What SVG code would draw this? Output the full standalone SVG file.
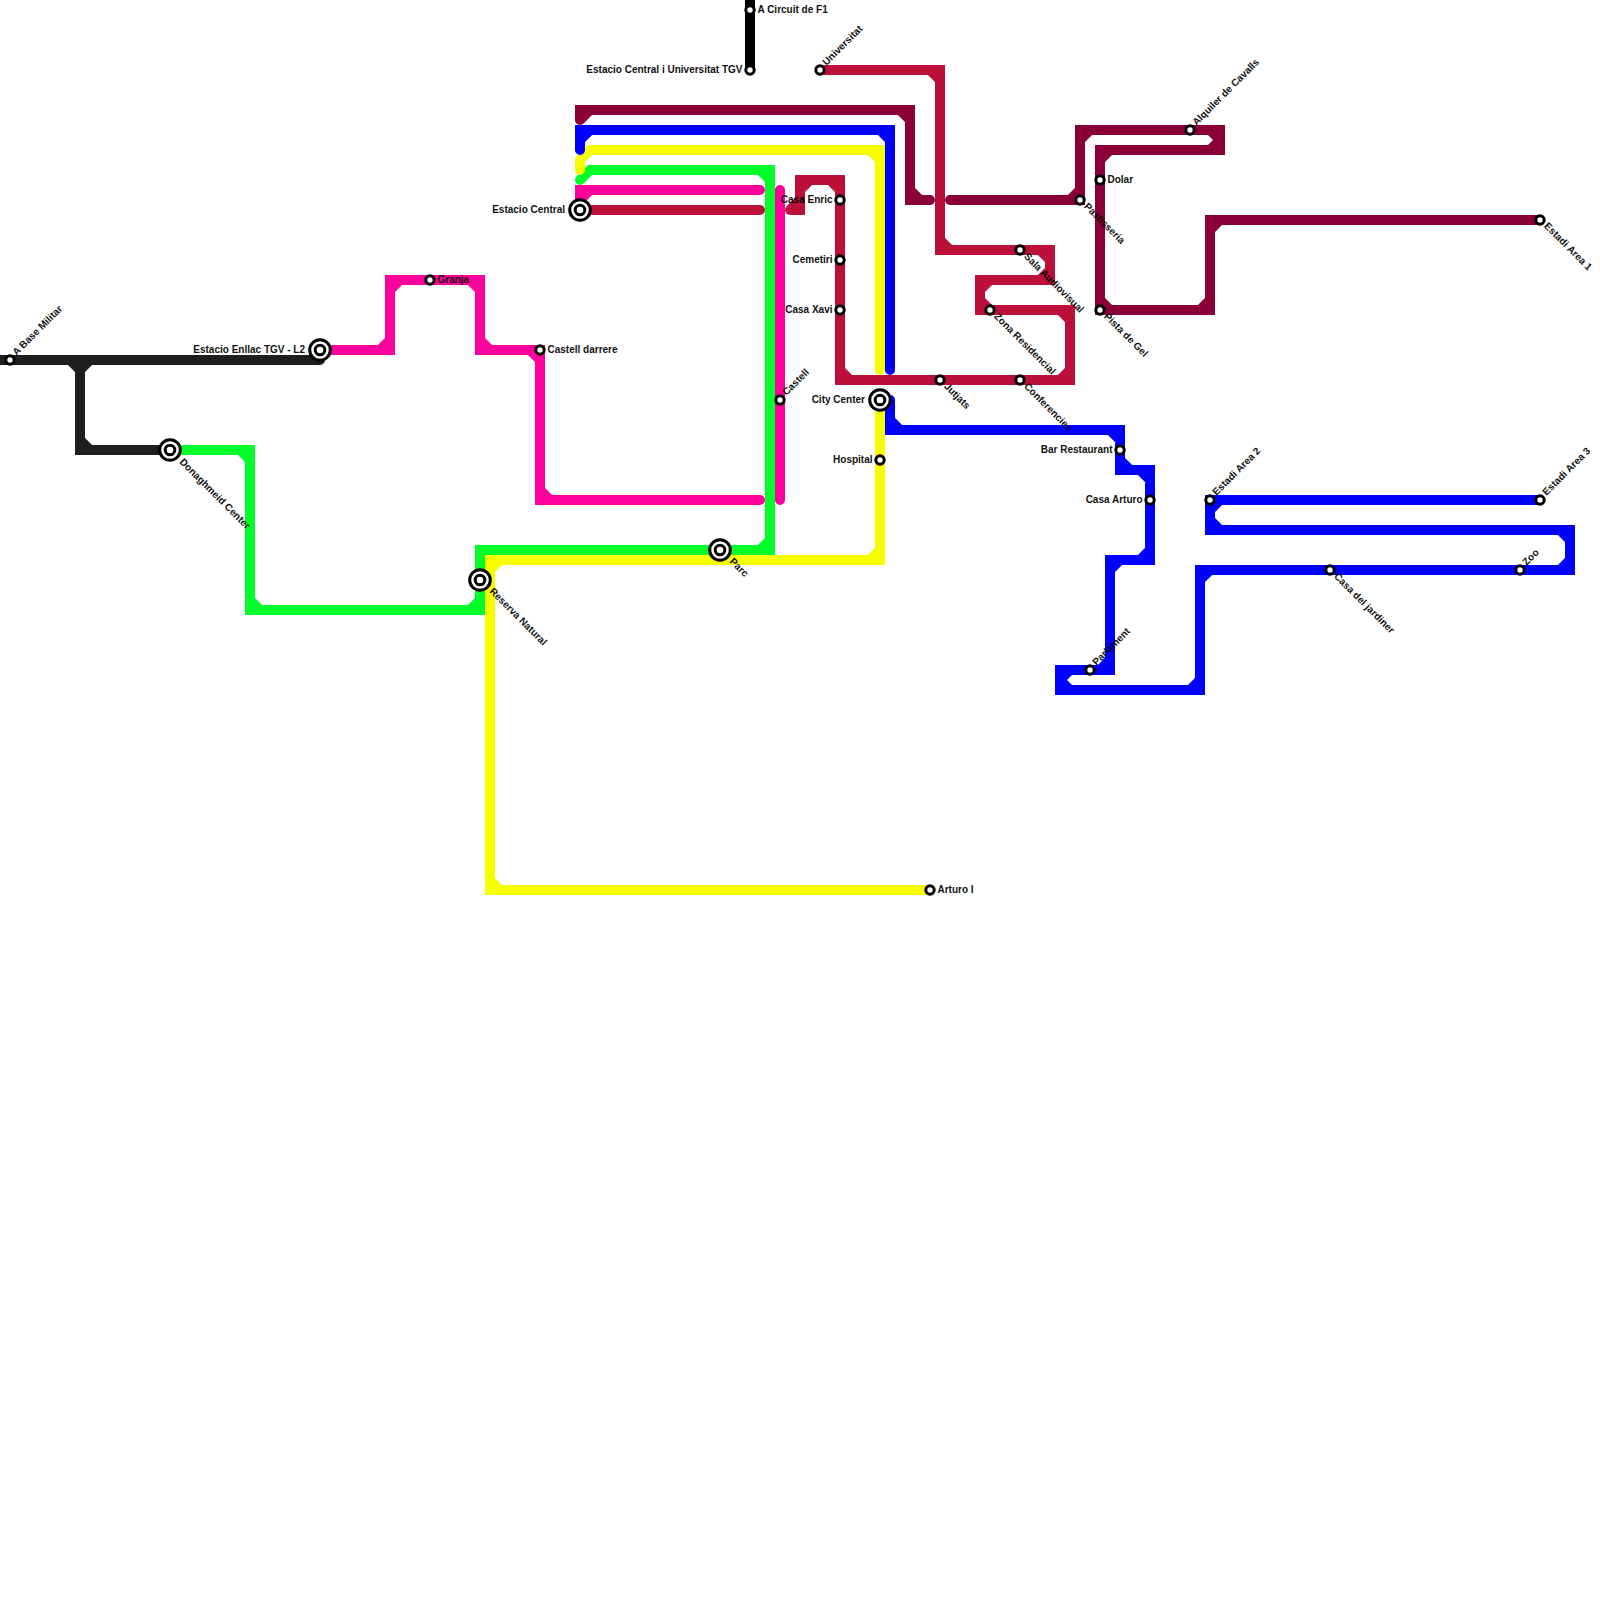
<svg xmlns="http://www.w3.org/2000/svg" width="1600" height="1600" viewBox="0 0 1600 1600">
<style>
.l{fill:none;stroke-width:10;stroke-linecap:round;stroke-linejoin:miter;stroke-miterlimit:10}
.s{fill:#fff;stroke:#000;stroke-width:3}
.t{font-family:"Liberation Sans",Arial,sans-serif;font-size:10px;font-weight:700;fill:#000;opacity:.93}
.e{text-anchor:end}
</style>
<rect width="1600" height="1600" fill="#fff"/>
<g id="connectors">
<path class="l" stroke="#000" d="M750 0V70"/>
<path class="l" stroke="#1e1e1e" d="M0 360H320M80 360V450H170M70 360L80 370M90 360L80 370M80 440L90 450"/>
<path class="l" stroke="#00ff2a" d="M170 450H250V610H480V550H770V170H590L580 180M240 450L250 460M250 600L260 610M470 610L480 600M480 560L490 550M760 550L770 540M760 170L770 180"/>
<path class="l" stroke="#ff009d" d="M320 350H390V280H480V350H540V500H760M380 350L390 340M390 290L400 280M470 280L480 290M480 340L490 350M530 350L540 360M540 490L550 500"/>
<path class="l" stroke="#ff009d" d="M580 210V190H760M580 200L590 190M780 190V500"/>
<path class="l" stroke="#f5ff00" d="M580 170V160L590 150H880V370M870 150L880 160"/>
<path class="l" stroke="#f5ff00" d="M880 400V560H490V890H930M880 550L870 560M500 560L490 570M490 880L500 890"/>
<path class="l" stroke="#00f" d="M580 150V130H890V370M580 140L590 130M880 130L890 140"/>
<path class="l" stroke="#00f" d="M890 400V430H1120V470H1150V560H1110V670H1060V690H1200V570H1570V530H1210V500H1540M890 420L900 430M1110 430L1120 440M1120 460L1130 470M1140 470L1150 480M1150 550L1140 560M1120 560L1110 570M1110 660L1100 670M1070 670L1060 680M1060 680L1070 690M1190 690L1200 680M1200 580L1210 570M1560 570L1570 560M1570 540L1560 530M1220 530L1210 520M1210 510L1220 500"/>
<path class="l" stroke="#8b0036" d="M580 120V110H910V200H930M580 120L590 110M900 110L910 120M910 190L920 200"/>
<path class="l" stroke="#8b0036" d="M950 200H1080V130H1220V150H1100V310H1210V220H1540M1070 200L1080 190M1080 140L1090 130M1210 130L1220 140M1220 140L1210 150M1110 150L1100 160M1100 300L1110 310M1200 310L1210 300M1210 230L1220 220"/>
<path class="l" stroke="#ba1039" d="M820 70H940V250H1050V280H980V310H1070V380H840V180H800V210H790M930 70L940 80M940 240L950 250M1040 250L1050 260M1050 270L1040 280M990 280L980 290M980 300L990 310M1060 310L1070 320M1070 370L1060 380M850 380L840 370M840 190L830 180M810 180L800 190M800 200L790 210"/>
<path class="l" stroke="#ba1039" d="M580 210H760"/>
</g>
<g id="n-base-militar"><circle class="s" cx="10" cy="360" r="4.2"/><text class="t" transform="translate(16.5 356) rotate(-45)">A Base Militar</text></g>
<g id="n-enllac"><circle class="s" cx="320" cy="350" r="10.3"/><circle class="s" cx="320" cy="350" r="4.8"/><text class="t e" x="305" y="352.5">Estacio Enllac TGV - L2</text></g>
<g id="n-donaghmeid"><circle class="s" cx="170" cy="450" r="10.3"/><circle class="s" cx="170" cy="450" r="4.8"/><text class="t" transform="translate(179 462.5) rotate(45)">Donaghmeid Center</text></g>
<g id="n-granja"><circle class="s" cx="430" cy="280" r="4.2"/><text class="t" x="437.5" y="282.5">Granja</text></g>
<g id="n-castell-darrere"><circle class="s" cx="540" cy="350" r="4.2"/><text class="t" x="547.5" y="352.5">Castell darrere</text></g>
<g id="n-reserva"><circle class="s" cx="480" cy="580" r="10.3"/><circle class="s" cx="480" cy="580" r="4.8"/><text class="t" transform="translate(489 592) rotate(45)">Reserva Natural</text></g>
<g id="n-parc"><circle class="s" cx="720" cy="550" r="10.3"/><circle class="s" cx="720" cy="550" r="4.8"/><text class="t" transform="translate(729 562) rotate(45)">Parc</text></g>
<g id="n-estacio-central"><circle class="s" cx="580" cy="210" r="10.3"/><circle class="s" cx="580" cy="210" r="4.8"/><text class="t e" x="565" y="212.5">Estacio Central</text></g>
<g id="n-circuit"><circle class="s" cx="750" cy="10" r="4.2"/><text class="t" x="757.5" y="12.5">A Circuit de F1</text></g>
<g id="n-central-tgv"><circle class="s" cx="750" cy="70" r="4.2"/><text class="t e" x="742.5" y="72.5">Estacio Central i Universitat TGV</text></g>
<g id="n-universitat"><circle class="s" cx="820" cy="70" r="4.2"/><text class="t" transform="translate(826.5 66) rotate(-45)">Universitat</text></g>
<g id="n-casa-enric"><circle class="s" cx="840" cy="200" r="4.2"/><text class="t e" x="832.5" y="202.5">Casa Enric</text></g>
<g id="n-cemetiri"><circle class="s" cx="840" cy="260" r="4.2"/><text class="t e" x="832.5" y="262.5">Cemetiri</text></g>
<g id="n-casa-xavi"><circle class="s" cx="840" cy="310" r="4.2"/><text class="t e" x="832.5" y="312.5">Casa Xavi</text></g>
<g id="n-castell"><circle class="s" cx="780" cy="400" r="4.2"/><text class="t" transform="translate(786.5 396) rotate(-45)">Castell</text></g>
<g id="n-city-center"><circle class="s" cx="880" cy="400" r="10.3"/><circle class="s" cx="880" cy="400" r="4.8"/><text class="t e" x="865" y="402.5">City Center</text></g>
<g id="n-hospital"><circle class="s" cx="880" cy="460" r="4.2"/><text class="t e" x="872.5" y="462.5">Hospital</text></g>
<g id="n-arturo"><circle class="s" cx="930" cy="890" r="4.2"/><text class="t" x="937.5" y="892.5">Arturo I</text></g>
<g id="n-jutjats"><circle class="s" cx="940" cy="380" r="4.2"/><text class="t" transform="translate(943.5 387) rotate(45)">Jutjats</text></g>
<g id="n-conferencies"><circle class="s" cx="1020" cy="380" r="4.2"/><text class="t" transform="translate(1023.5 387) rotate(45)">Conferencies</text></g>
<g id="n-sala"><circle class="s" cx="1020" cy="250" r="4.2"/><text class="t" transform="translate(1023.5 257) rotate(45)">Sala Audiovisual</text></g>
<g id="n-zona"><circle class="s" cx="990" cy="310" r="4.2"/><text class="t" transform="translate(993.5 317) rotate(45)">Zona Residencial</text></g>
<g id="n-pastisseria"><circle class="s" cx="1080" cy="200" r="4.2"/><text class="t" transform="translate(1083.5 207) rotate(45)">Pastisseria</text></g>
<g id="n-dolar"><circle class="s" cx="1100" cy="180" r="4.2"/><text class="t" x="1107.5" y="182.5">Dolar</text></g>
<g id="n-pista"><circle class="s" cx="1100" cy="310" r="4.2"/><text class="t" transform="translate(1103.5 317) rotate(45)">Pista de Gel</text></g>
<g id="n-alquiler"><circle class="s" cx="1190" cy="130" r="4.2"/><text class="t" transform="translate(1196.5 126) rotate(-45)">Alquiler de Cavalls</text></g>
<g id="n-area1"><circle class="s" cx="1540" cy="220" r="4.2"/><text class="t" transform="translate(1543.5 226.5) rotate(45)">Estadi Area 1</text></g>
<g id="n-bar"><circle class="s" cx="1120" cy="450" r="4.2"/><text class="t e" x="1112.5" y="452.5">Bar Restaurant</text></g>
<g id="n-casa-arturo"><circle class="s" cx="1150" cy="500" r="4.2"/><text class="t e" x="1142.5" y="502.5">Casa Arturo</text></g>
<g id="n-area2"><circle class="s" cx="1210" cy="500" r="4.2"/><text class="t" transform="translate(1216.5 496) rotate(-45)">Estadi Area 2</text></g>
<g id="n-area3"><circle class="s" cx="1540" cy="500" r="4.2"/><text class="t" transform="translate(1546.5 496) rotate(-45)">Estadi Area 3</text></g>
<g id="n-zoo"><circle class="s" cx="1520" cy="570" r="4.2"/><text class="t" transform="translate(1526.5 566) rotate(-45)">Zoo</text></g>
<g id="n-jardiner"><circle class="s" cx="1330" cy="570" r="4.2"/><text class="t" transform="translate(1333.5 577) rotate(45)">Casa del jardiner</text></g>
<g id="n-parlament"><circle class="s" cx="1090" cy="670" r="4.2"/><text class="t" transform="translate(1096.5 666) rotate(-45)">Parlament</text></g>
</svg>
